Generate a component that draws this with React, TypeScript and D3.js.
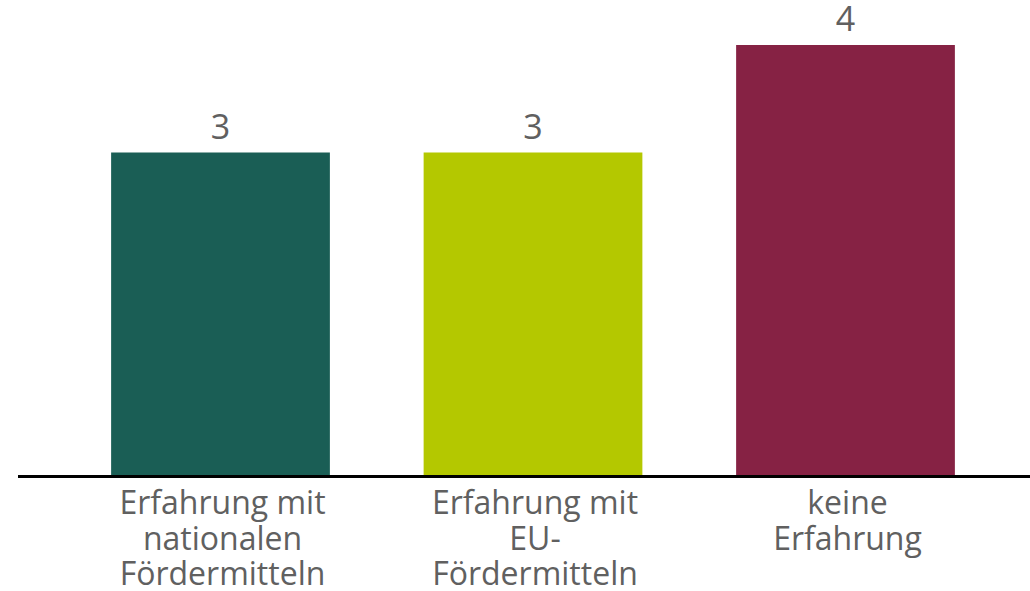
import React from "react";
import * as d3 from "d3";

const categories = [
  ["Erfahrung mit", "nationalen", "Fördermitteln"],
  ["Erfahrung mit", "EU-", "Fördermitteln"],
  ["keine", "Erfahrung"],
];
const values = [3, 3, 4];
const colors = ["#1a5e55", "#b4c800", "#862244"];

export default function App() {
  const W = 1030, H = 591;
  const keys = categories.map((_, i) => String(i));
  const x = d3.scaleBand().domain(keys).range([64.25, 1001.75]).paddingInner(0.3).paddingOuter(0.15);
  const y = d3.scaleLinear().domain([0, 4]).range([475, 45]);
  const font = "'Open Sans', sans-serif";
  return (
    <svg width={W} height={H} style={{ position: "absolute", left: 0, top: 0 }}>
      <rect width={W} height={H} fill="#fff" />
      {values.map((v, i) => (
        <g key={i}>
          <rect x={x(keys[i])} y={y(v)} width={x.bandwidth()} height={y(0) - y(v)} fill={colors[i]} />
          <text x={x(keys[i])! + x.bandwidth() / 2} y={y(v) - 14} textAnchor="middle" fontFamily={font} fontSize={34} fill="#606060">{v}</text>
          {categories[i].map((line, j) => (
            <text key={j} x={x(keys[i])! + x.bandwidth() / 2 + 2} y={514 + j * 35.5} textAnchor="middle" fontFamily={font} fontSize={32} fill="#606060">{line}</text>
          ))}
        </g>
      ))}
      <line x1={18} x2={W} y1={y(0) + 1.5} y2={y(0) + 1.5} stroke="#000" strokeWidth={3} />
    </svg>
  );
}
